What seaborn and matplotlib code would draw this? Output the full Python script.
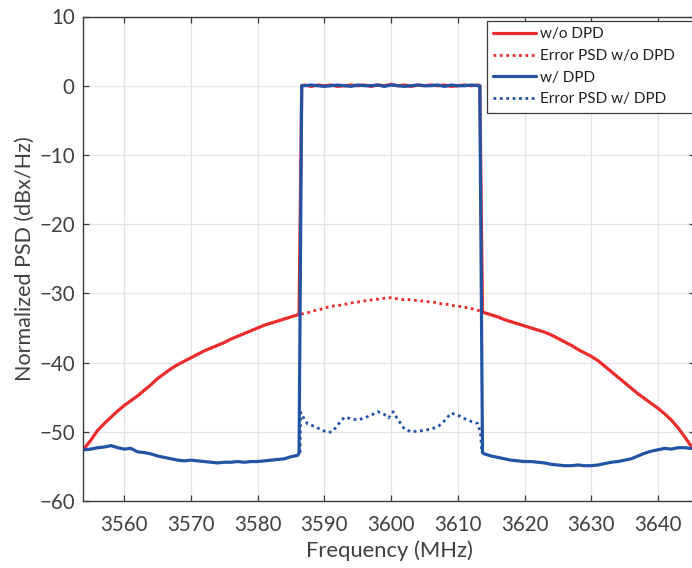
import numpy as np
import pandas as pd
import matplotlib
matplotlib.use("Agg")
import matplotlib.pyplot as plt
import seaborn as sns

# ---------------- data ----------------
freq_left = [3554, 3555, 3556, 3557, 3558, 3559, 3560, 3561, 3562, 3563, 3564,
             3565, 3566, 3567, 3568, 3569, 3570, 3571, 3572, 3573, 3574, 3575,
             3576, 3577, 3578, 3579, 3580, 3581, 3582, 3583, 3584, 3585, 3586, 3586.2]
red_left = [-52.4, -51.2, -49.8, -48.8, -47.9, -47.0, -46.2, -45.5, -44.8, -44.0, -43.2,
            -42.3, -41.6, -40.9, -40.3, -39.8, -39.3, -38.8, -38.3, -37.9, -37.5, -37.1,
            -36.6, -36.2, -35.8, -35.4, -35.0, -34.6, -34.3, -34.0, -33.7, -33.4, -33.1, -33.0]
blue_left = [-52.6, -52.5, -52.3, -52.2, -52.0, -52.3, -52.5, -52.4, -52.9, -53.0, -53.2,
             -53.5, -53.7, -53.9, -54.1, -54.2, -54.1, -54.2, -54.3, -54.4, -54.5, -54.4,
             -54.4, -54.3, -54.4, -54.3, -54.3, -54.2, -54.1, -54.0, -53.9, -53.6, -53.4, -53.1]

freq_in = [3586.6, 3587, 3588, 3589, 3590, 3591, 3592, 3593, 3594, 3595, 3596, 3597,
           3598, 3599, 3600, 3601, 3602, 3603, 3604, 3605, 3606, 3607, 3608, 3609,
           3610, 3611, 3612, 3613, 3613.3]
red_in = [0.0, 0.1, -0.1, 0.1, 0.0, 0.1, -0.1, 0.0, 0.1, 0.0, 0.1, -0.1,
          0.1, 0.0, 0.2, 0.0, 0.1, -0.1, 0.1, 0.0, 0.1, 0.0, 0.1, -0.1,
          0.0, 0.1, 0.0, 0.1, 0.0]
blue_in = [0.0, 0.0, 0.1, 0.0, -0.1, 0.0, 0.1, 0.0, -0.1, 0.1, 0.0, 0.0,
           0.1, -0.1, 0.1, 0.0, -0.1, 0.0, 0.1, 0.0, 0.0, 0.1, -0.1, 0.1,
           0.0, 0.0, 0.1, 0.0, 0.0]

freq_right = [3613.7, 3614, 3615, 3616, 3617, 3618, 3619, 3620, 3621, 3622, 3623, 3624,
              3625, 3626, 3627, 3628, 3629, 3630, 3631, 3632, 3633, 3634, 3635,
              3636, 3637, 3638, 3639, 3640, 3641, 3642, 3643, 3644, 3645, 3645.6]
red_right = [-32.7, -32.8, -33.1, -33.4, -33.8, -34.1, -34.4, -34.7, -35.0, -35.3, -35.6, -36.0,
             -36.5, -37.0, -37.5, -38.1, -38.6, -39.1, -39.7, -40.5, -41.3, -42.1, -42.9,
             -43.7, -44.5, -45.2, -45.9, -46.6, -47.4, -48.3, -49.4, -50.7, -52.1, -53.0]
blue_right = [-53.0, -53.2, -53.5, -53.7, -53.9, -54.1, -54.2, -54.3, -54.3, -54.4, -54.5, -54.7,
              -54.8, -54.9, -54.9, -54.8, -54.9, -54.9, -54.8, -54.6, -54.4, -54.3, -54.1,
              -53.9, -53.5, -53.1, -52.8, -52.6, -52.4, -52.5, -52.3, -52.3, -52.4, -52.4]

freq_err_red = [3586.5, 3587.5, 3588.5, 3589.5, 3590.5, 3591.5, 3592.5, 3593.5, 3594.5,
                3595.5, 3596.5, 3597.5, 3598.5, 3599.5, 3600.5, 3601.5, 3602.5, 3603.5,
                3604.5, 3605.5, 3606.5, 3607.5, 3608.5, 3609.5, 3610.5, 3611.5, 3612.5, 3613.5]
err_red = [-33.0, -32.8, -32.5, -32.3, -32.0, -31.8, -31.7, -31.5, -31.3,
           -31.2, -31.0, -30.9, -30.8, -30.6, -30.7, -30.9, -30.9, -31.0,
           -31.1, -31.2, -31.3, -31.5, -31.6, -31.8, -31.9, -32.1, -32.3, -32.6]

freq_err_blue = [3586.35, 3586.45, 3587.0, 3587.5, 3588.5, 3589.5, 3590.5, 3591.2, 3592.0,
                 3593.0, 3594.0, 3595.0, 3596.0, 3597.0, 3598.0, 3599.0, 3599.6, 3600.3,
                 3601.0, 3602.0, 3603.0, 3604.0, 3605.0, 3606.0, 3607.0, 3608.0, 3609.0,
                 3610.0, 3611.0, 3612.0, 3613.0, 3613.4, 3613.6]
err_blue = [-53.0, -47.2, -48.2, -48.9, -49.2, -49.7, -50.1, -50.0, -49.0,
            -47.9, -48.1, -48.3, -48.0, -47.6, -47.1, -47.5, -48.0, -47.1,
            -48.2, -49.6, -50.0, -49.9, -49.8, -49.6, -49.3, -48.4, -47.3,
            -47.6, -48.1, -48.5, -48.8, -50.2, -52.8]

x_ticks = [3560, 3570, 3580, 3590, 3600, 3610, 3620, 3630, 3640]
y_ticks = [-60, -50, -40, -30, -20, -10, 0, 10]

labels = ["w/o DPD", "Error PSD w/o DPD", "w/ DPD", "Error PSD w/ DPD"]

# ---------------- build tables ----------------
df_red = pd.DataFrame({"f": freq_left + freq_in + freq_right,
                       "p": red_left + red_in + red_right})
df_blue = pd.DataFrame({"f": freq_left + freq_in + freq_right,
                        "p": blue_left + blue_in + blue_right})
df_err_red = pd.DataFrame({"f": freq_err_red, "p": err_red})
df_err_blue = pd.DataFrame({"f": freq_err_blue, "p": err_blue})

# ---------------- style ----------------
sns.set_theme(style="whitegrid")
plt.rcParams["font.family"] = ["Lato", "DejaVu Sans"]
text_col = "#404040"
plt.rcParams.update({
    "axes.edgecolor": "#3a3a3a",
    "text.color": text_col,
    "axes.labelcolor": text_col,
    "xtick.color": "#3a3a3a",
    "ytick.color": "#3a3a3a",
    "xtick.labelcolor": text_col,
    "ytick.labelcolor": text_col,
})

RED = "#EC2B2B"
BLUE = "#2353A3"

fig = plt.figure(figsize=(6.92, 5.68), dpi=100)
W, H = 692, 568
ax_l, ax_r, ax_t, ax_b = 83, 695, 16.5, 501
ax = fig.add_axes([ax_l / W, 1 - ax_b / H, (ax_r - ax_l) / W, (ax_b - ax_t) / H])

sns.lineplot(data=df_red, x="f", y="p", ax=ax, color=RED, lw=2.3,
             estimator=None, sort=False, label=labels[0])
sns.lineplot(data=df_err_red, x="f", y="p", ax=ax, color=RED, lw=2.0,
             linestyle=(0, (1, 1.3)), estimator=None, sort=False, label=labels[1])
sns.lineplot(data=df_blue, x="f", y="p", ax=ax, color=BLUE, lw=2.3,
             estimator=None, sort=False, label=labels[2])
sns.lineplot(data=df_err_blue, x="f", y="p", ax=ax, color=BLUE, lw=2.0,
             linestyle=(0, (1, 1.3)), estimator=None, sort=False, label=labels[3])

ax.set_xlim(3553.81, 3645.56)
ax.set_ylim(-60, 10)
ax.set_xticks(x_ticks)
ax.set_yticks(y_ticks)
ax.set_yticklabels([str(v).replace("-", "\u2212") for v in y_ticks])
ax.grid(True, color="#e4e4e4", lw=0.9)
for s in ax.spines.values():
    s.set_visible(True)
    s.set_linewidth(1.0)
    s.set_color("#3a3a3a")
ax.tick_params(axis="both", which="both", direction="in", length=4.5, width=0.9,
               labelsize=14.8, top=True, right=True, bottom=True, left=True)
ax.tick_params(axis="x", pad=10)
ax.tick_params(axis="y", pad=6)
ax.set_xlabel("Frequency (MHz)", fontsize=15.8, labelpad=4)
ax.set_ylabel("Normalized PSD (dBx/Hz)", fontsize=15.5, labelpad=3)

leg_h = 90
leg = ax.legend(loc="upper left",
                bbox_to_anchor=(486.5 / W, 1 - (20.5 + leg_h) / H, 215 / W, leg_h / H),
                bbox_transform=fig.transFigure, mode="expand", borderaxespad=0,
                fontsize=11, frameon=True, fancybox=False, handlelength=2.8,
                handletextpad=0.25, labelspacing=0.5, borderpad=0.45)
leg.get_frame().set_edgecolor("#3a3a3a")
leg.get_frame().set_linewidth(0.9)
leg.get_frame().set_alpha(1)
for t in leg.get_texts():
    t.set_color("#202020")

fig.savefig("out.png", dpi=100)
